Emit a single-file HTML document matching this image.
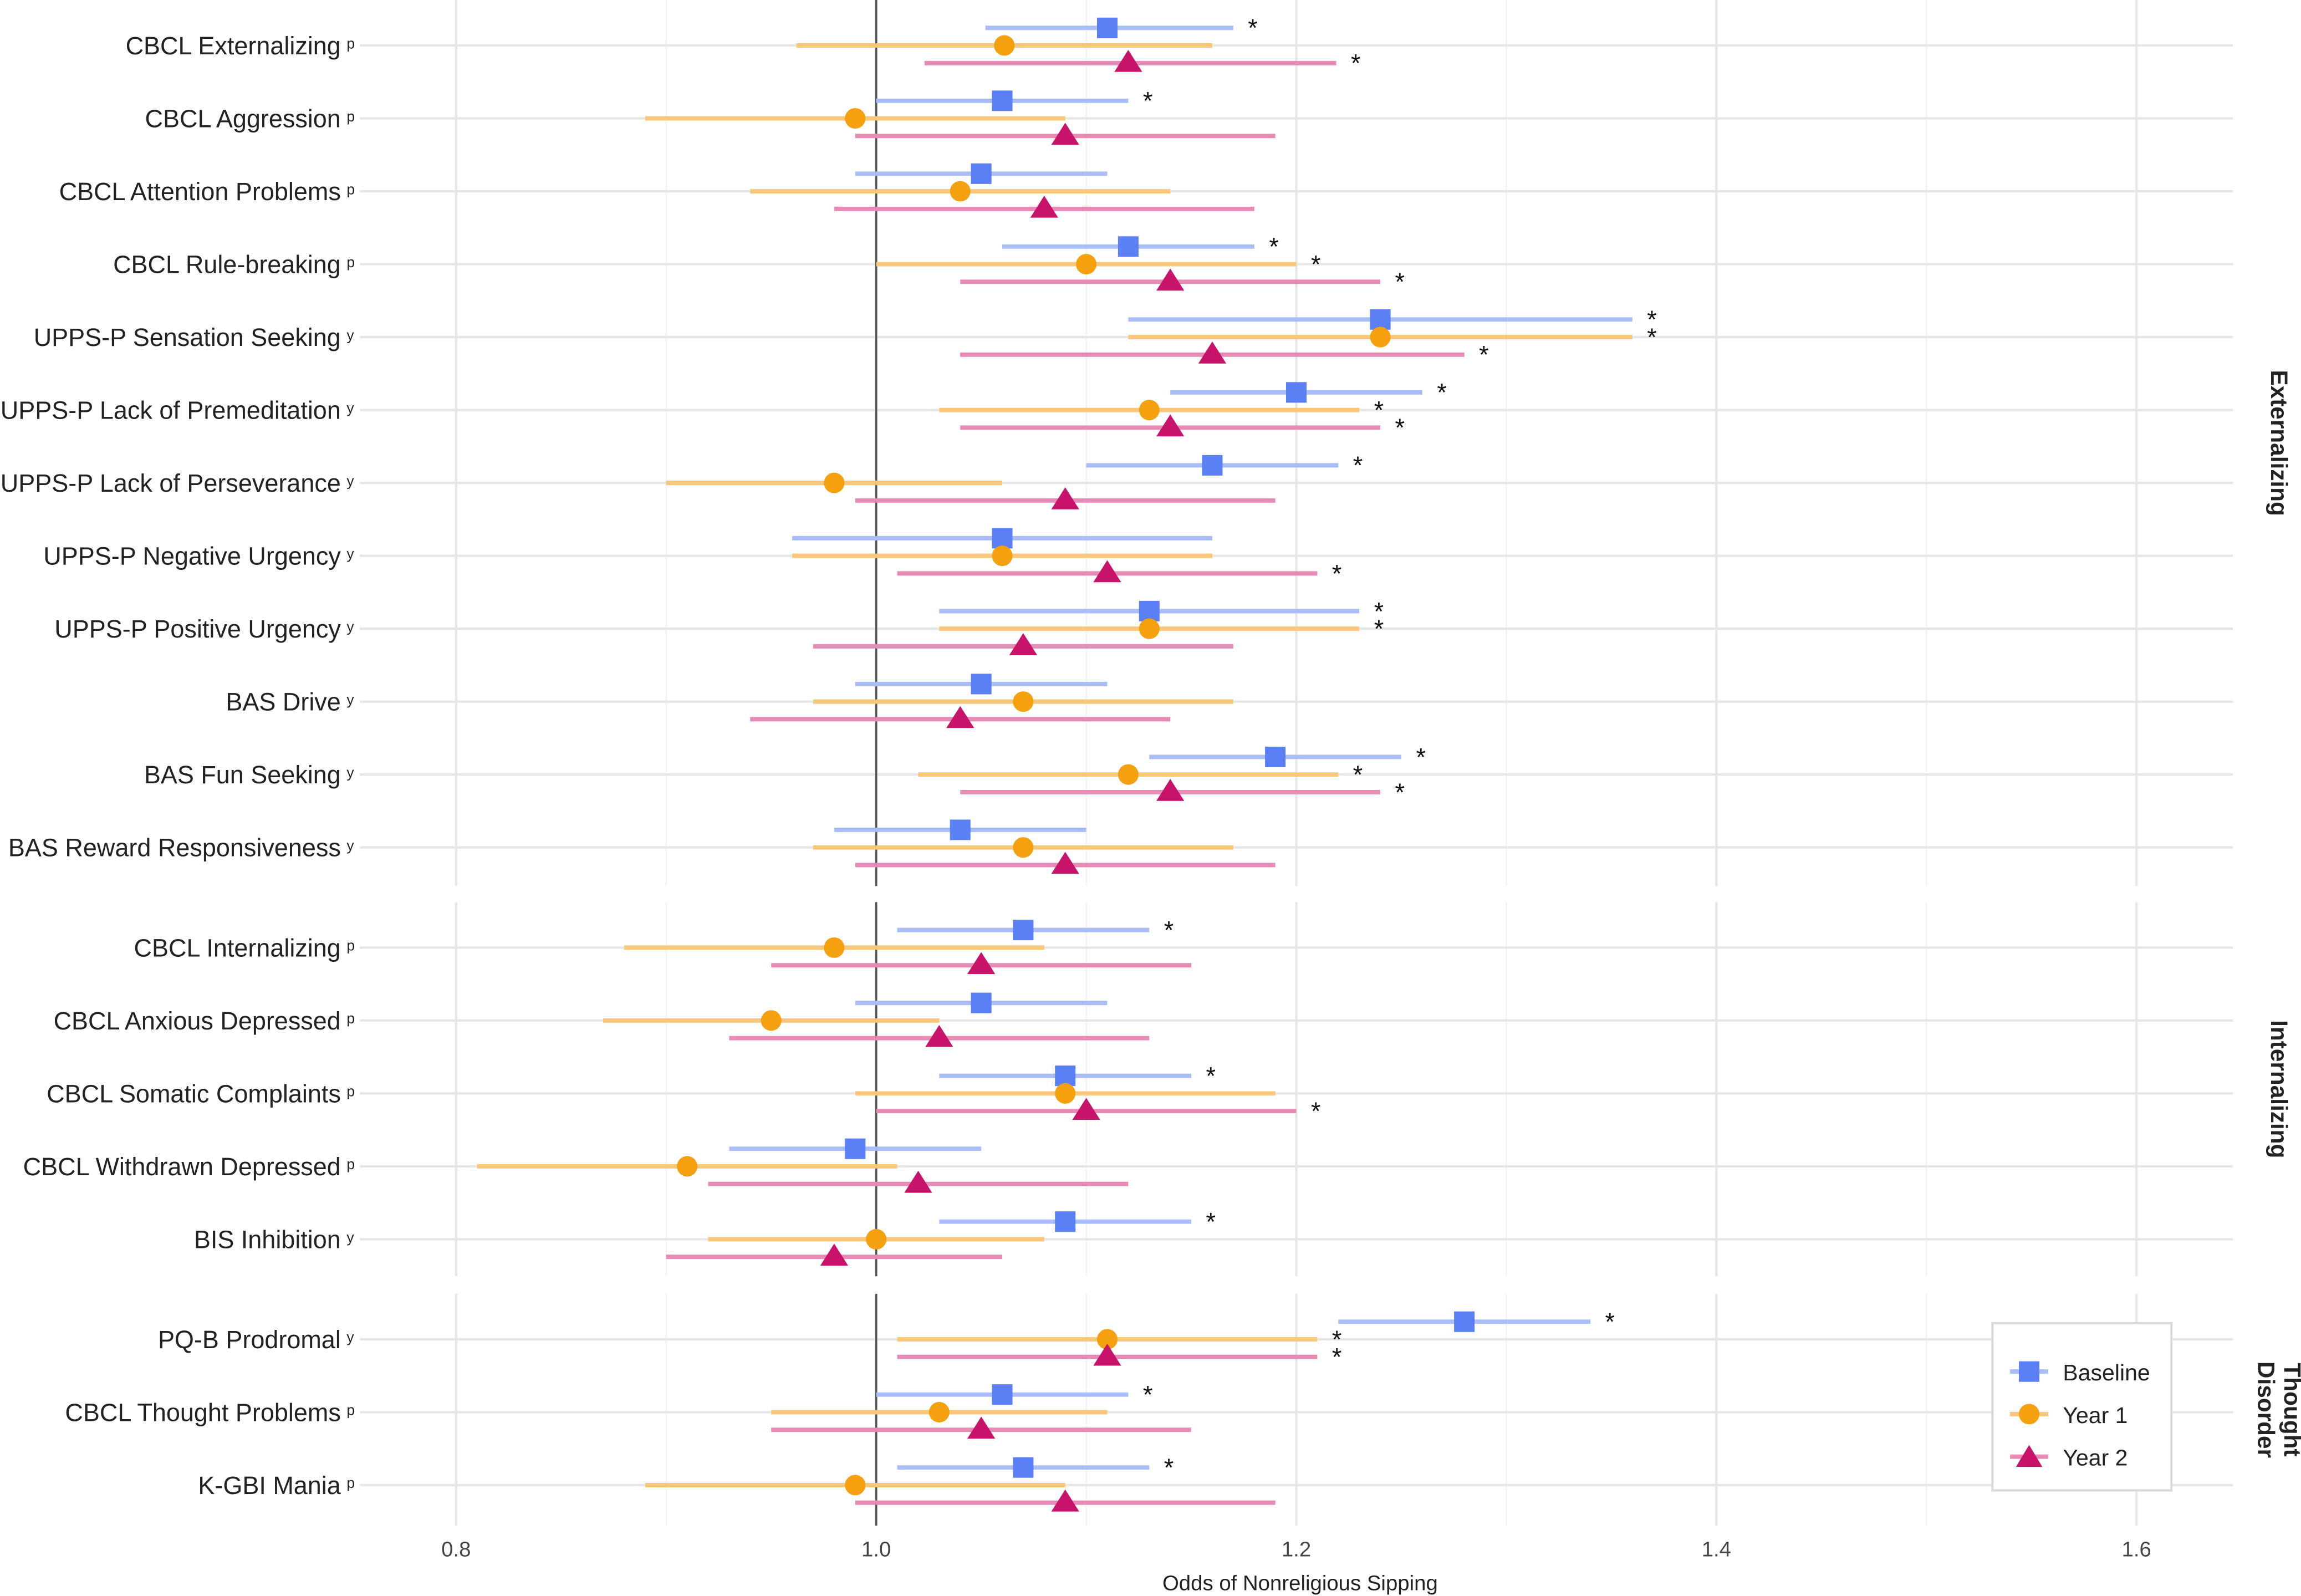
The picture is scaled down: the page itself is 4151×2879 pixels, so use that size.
<!DOCTYPE html>
<html><head><meta charset="utf-8"><style>
html,body{margin:0;padding:0;background:#fff;}
svg{display:block;font-family:"Liberation Sans",Arial,sans-serif;}
</style></head><body>
<svg id="chart" width="4151" height="2879" viewBox="0 0 1568 1088" xmlns="http://www.w3.org/2000/svg">
<g id="grid"></g>
<g id="marks"></g>
<g id="labels"></g>
<text x="886" y="1084" font-size="14.5" text-anchor="middle" fill="#222">Odds of Nonreligious Sipping</text>
<g>
<rect x="1358" y="902" width="122" height="114" fill="#fff" stroke="#d9d9d9" stroke-width="1.5"/>
<g><line x1="1370" x2="1396" y1="935" y2="935" stroke="#a9bdf7" stroke-width="3"/><rect x="1376" y="928" width="14" height="14" fill="#5b7ff5"/><text x="1406" y="941" font-size="15.5" fill="#222">Baseline</text></g>
<g><line x1="1370" x2="1396" y1="964" y2="964" stroke="#f8c77a" stroke-width="3"/><circle cx="1383" cy="964" r="7" fill="#f5a00f"/><text x="1406" y="970" font-size="15.5" fill="#222">Year 1</text></g>
<g><line x1="1370" x2="1396" y1="993" y2="993" stroke="#e68ab6" stroke-width="3"/><polygon points="1383,985 1392,1000 1374,1000" fill="#c8136a"/><text x="1406" y="999" font-size="15.5" fill="#222">Year 2</text></g>
</g>
</svg>
<script>
const categories=["CBCL Externalizing","CBCL Aggression","CBCL Attention Problems","CBCL Rule-breaking","UPPS-P Sensation Seeking","UPPS-P Lack of Premeditation","UPPS-P Lack of Perseverance","UPPS-P Negative Urgency","UPPS-P Positive Urgency","BAS Drive","BAS Fun Seeking","BAS Reward Responsiveness","CBCL Internalizing","CBCL Anxious Depressed","CBCL Somatic Complaints","CBCL Withdrawn Depressed","BIS Inhibition","PQ-B Prodromal","CBCL Thought Problems","K-GBI Mania"];
const informants=["p","p","p","p","y","y","y","y","y","y","y","y","p","p","p","p","y","y","p","p"];
const panels=[0,0,0,0,0,0,0,0,0,0,0,0,1,1,1,1,1,2,2,2];
const panelNames=[["Externalizing"],["Internalizing"],["Thought","Disorder"]];
const baseEst=[1.11,1.06,1.05,1.12,1.24,1.20,1.16,1.06,1.13,1.05,1.19,1.04,1.07,1.05,1.09,0.99,1.09,1.28,1.06,1.07];
const baseLo=[1.052,1.00,0.99,1.06,1.12,1.14,1.10,0.96,1.03,0.99,1.13,0.98,1.01,0.99,1.03,0.93,1.03,1.22,1.00,1.01];
const baseHi=[1.17,1.12,1.11,1.18,1.36,1.26,1.22,1.16,1.23,1.11,1.25,1.10,1.13,1.11,1.15,1.05,1.15,1.34,1.12,1.13];
const baseSig=[1,1,0,1,1,1,1,0,1,0,1,0,1,0,1,0,1,1,1,1];
const y1Est=[1.061,0.99,1.04,1.10,1.24,1.13,0.98,1.06,1.13,1.07,1.12,1.07,0.98,0.95,1.09,0.91,1.00,1.11,1.03,0.99];
const y1Lo=[0.962,0.89,0.94,1.00,1.12,1.03,0.90,0.96,1.03,0.97,1.02,0.97,0.88,0.87,0.99,0.81,0.92,1.01,0.95,0.89];
const y1Hi=[1.16,1.09,1.14,1.20,1.36,1.23,1.06,1.16,1.23,1.17,1.22,1.17,1.08,1.03,1.19,1.01,1.08,1.21,1.11,1.09];
const y1Sig=[0,0,0,1,1,1,0,0,1,0,1,0,0,0,0,0,0,1,0,0];
const y2Est=[1.12,1.09,1.08,1.14,1.16,1.14,1.09,1.11,1.07,1.04,1.14,1.09,1.05,1.03,1.10,1.02,0.98,1.11,1.05,1.09];
const y2Lo=[1.023,0.99,0.98,1.04,1.04,1.04,0.99,1.01,0.97,0.94,1.04,0.99,0.95,0.93,1.00,0.92,0.90,1.01,0.95,0.99];
const y2Hi=[1.219,1.19,1.18,1.24,1.28,1.24,1.19,1.21,1.17,1.14,1.24,1.19,1.15,1.13,1.20,1.12,1.06,1.21,1.15,1.19];
const y2Sig=[1,0,0,1,1,1,0,1,0,0,1,0,0,0,1,0,0,1,0,0];
const xTicks=[0.8,1.0,1.2,1.4,1.6];
const xTickLabels=["0.8","1.0","1.2","1.4","1.6"];
const xMinor=[0.9,1.1,1.3,1.5];

const NS="http://www.w3.org/2000/svg";
const X=v=>597+(v-1)*1432;
const panelBox=[[0,604],[615,870],[882,1040]];
const PL=245,PR=1522;
function rowY(i){
  const p=panels[i];let k=0;for(let j=0;j<i;j++)if(panels[j]===p)k++;
  const starts=[31,646,913];return starts[p]+k*49.7;
}
function el(tag,attrs,parent){const e=document.createElementNS(NS,tag);for(const k in attrs)e.setAttribute(k,attrs[k]);parent.appendChild(e);return e;}
const G=document.getElementById('grid'),M=document.getElementById('marks'),L=document.getElementById('labels');
panelBox.forEach((b,pi)=>{
  xMinor.forEach(v=>{const l=el('line',{x1:X(v),x2:X(v),y1:b[0],y2:b[1],stroke:'#f2f2f2','stroke-width':1},G);
    });
  xTicks.forEach(v=>{const l=el('line',{x1:X(v),x2:X(v),y1:b[0],y2:b[1],stroke:'#e6e6e6','stroke-width':1.6},G);
    });
  const t=el('text',{transform:`translate(1553,${(b[0]+b[1])/2}) rotate(90)`,'font-size':16,'font-weight':'bold','text-anchor':'middle',fill:'#222'},L);
  
  panelNames[pi].forEach((s,si)=>{const ts=el('tspan',{x:0,dy:si===0?(panelNames[pi].length>1?-4:5):18},t);ts.textContent=s;});
});
categories.forEach((c,i)=>{
  const y=rowY(i);
  const g=el('line',{x1:PL,x2:PR,y1:y,y2:y,stroke:'#e6e6e6','stroke-width':1.6},G);
  
  const t=el('text',{x:232,y:y+6,'font-size':17,'text-anchor':'end',fill:'#222'},L);t.textContent=c;
  
  const s=el('text',{x:236,y:y+2,'font-size':10,fill:'#222'},L);s.textContent=informants[i];
  
});
panelBox.forEach(b=>{const l=el('line',{x1:X(1),x2:X(1),y1:b[0],y2:b[1],stroke:'#555','stroke-width':1.4},M);
  });
const series=[
 {est:baseEst,lo:baseLo,hi:baseHi,sig:baseSig,off:-12,line:'#a9bdf7',col:'#5b7ff5',shape:'sq',name:'baseline'},
 {est:y1Est,lo:y1Lo,hi:y1Hi,sig:y1Sig,off:0,line:'#f8c77a',col:'#f5a00f',shape:'c',name:'year1'},
 {est:y2Est,lo:y2Lo,hi:y2Hi,sig:y2Sig,off:12,line:'#e68ab6',col:'#c8136a',shape:'t',name:'year2'}];
series.forEach(s=>{
  categories.forEach((c,i)=>{
    const y=rowY(i)+s.off;
    const l=el('line',{x1:X(s.lo[i]),x2:X(s.hi[i]),y1:y,y2:y,stroke:s.line,'stroke-width':3},M);
    
    let m;const x=X(s.est[i]);
    if(s.shape==='sq')m=el('rect',{x:x-7,y:y-7,width:14,height:14,fill:s.col},M);
    else if(s.shape==='c')m=el('circle',{cx:x,cy:y,r:7,fill:s.col},M);
    else m=el('polygon',{points:`${x},${y-9} ${x+9.5},${y+6} ${x-9.5},${y+6}`,fill:s.col},M);
    
    if(s.sig[i]){const a=el('text',{x:X(s.hi[i])+10,y:y+6,'font-size':17,fill:'#111'},M);a.textContent='*';
      }
  });
});
xTicks.forEach((v,i)=>{const t=el('text',{x:X(v),y:1061,'font-size':14.5,'text-anchor':'middle',fill:'#444'},L);
  t.textContent=xTickLabels[i];});
</script>
</body></html>
